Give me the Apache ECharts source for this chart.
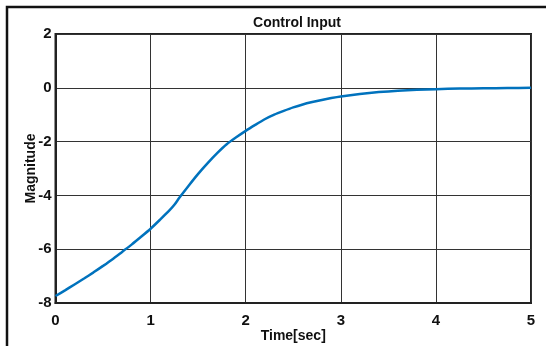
<!DOCTYPE html>
<html>
<head>
<meta charset="utf-8">
<script src="https://cdn.jsdelivr.net/npm/echarts@6/dist/echarts.min.js"></script>
<style>
  html, body { margin: 0; padding: 0; background: #fff; }
  #chart { width: 546px; height: 346px; }
</style>
</head>
<body>
<div id="chart"></div>
<script>
// Control input u(t) over the first five seconds
const timeSec = [0, 0.1, 0.2, 0.3, 0.4, 0.5, 0.6, 0.7, 0.8, 0.9, 1.0, 1.1, 1.2, 1.25, 1.3, 1.4, 1.5, 1.6, 1.7, 1.8, 1.9, 2.0, 2.1, 2.2, 2.3, 2.4, 2.5, 2.6, 2.7, 2.8, 2.9, 3.0, 3.2, 3.4, 3.6, 3.8, 4.0, 4.25, 4.5, 4.75, 5.0];
const magnitude = [-7.74, -7.53, -7.31, -7.09, -6.86, -6.62, -6.37, -6.10, -5.83, -5.54, -5.24, -4.90, -4.55, -4.35, -4.10, -3.64, -3.20, -2.80, -2.43, -2.10, -1.84, -1.60, -1.38, -1.17, -1.00, -0.86, -0.73, -0.62, -0.53, -0.45, -0.38, -0.32, -0.23, -0.16, -0.11, -0.07, -0.05, -0.03, -0.02, -0.01, 0.0];
const xTicks = [0, 1, 2, 3, 4, 5];
const yTicks = [-8, -6, -4, -2, 0, 2];

const chart = echarts.init(document.getElementById('chart'), null, { renderer: 'canvas' });
const font = 'Liberation Sans, Arial, sans-serif';

chart.setOption({
  animation: false,
  backgroundColor: '#ffffff',
  title: {
    text: 'Control Input',
    left: 292, top: 11, textAlign: 'center',
    textStyle: { fontFamily: font, fontWeight: 'bold', fontSize: 14, color: '#111' }
  },
  graphic: [{
    type: 'rect',
    shape: { x: 7, y: 7, width: 600, height: 400 },
    style: { fill: 'none', stroke: '#111', lineWidth: 2.5 },
    silent: true
  }],
  grid: {
    left: 55.5, right: 15, top: 34, bottom: 43,
    containLabel: false, outerBoundsMode: 'none',
    show: true, borderColor: '#222', borderWidth: 2, backgroundColor: 'transparent'
  },
  xAxis: {
    type: 'value', min: xTicks[0], max: xTicks[xTicks.length - 1], interval: 1,
    name: 'Time[sec]', nameLocation: 'middle', nameGap: 26, nameMoveOverlap: false,
    nameTextStyle: { fontFamily: font, fontWeight: 'bold', fontSize: 14, color: '#111' },
    axisLine: { show: true, onZero: false, lineStyle: { color: '#222', width: 2 } },
    axisTick: { show: false },
    axisLabel: { fontFamily: font, fontWeight: 'bold', fontSize: 15, color: '#111', margin: 10 },
    splitLine: { show: true, lineStyle: { color: '#333', width: 1 } }
  },
  yAxis: {
    type: 'value', min: yTicks[0], max: yTicks[yTicks.length - 1], interval: 2,
    name: 'Magnitude', nameLocation: 'middle', nameGap: 17, nameRotate: 90, nameMoveOverlap: false,
    nameTextStyle: { fontFamily: font, fontWeight: 'bold', fontSize: 14, color: '#111' },
    axisLine: { show: true, onZero: false, lineStyle: { color: '#222', width: 2 } },
    axisTick: { show: false },
    axisLabel: { fontFamily: font, fontWeight: 'bold', fontSize: 15, color: '#111', margin: 4 },
    splitLine: { show: true, lineStyle: { color: '#333', width: 1 } }
  },
  series: [{
    type: 'line',
    data: timeSec.map((t, i) => [t, magnitude[i]]),
    showSymbol: false,
    smooth: 0.2,
    lineStyle: { color: '#0072BD', width: 2.5 },
    clip: false
  }]
});
</script>
</body>
</html>
